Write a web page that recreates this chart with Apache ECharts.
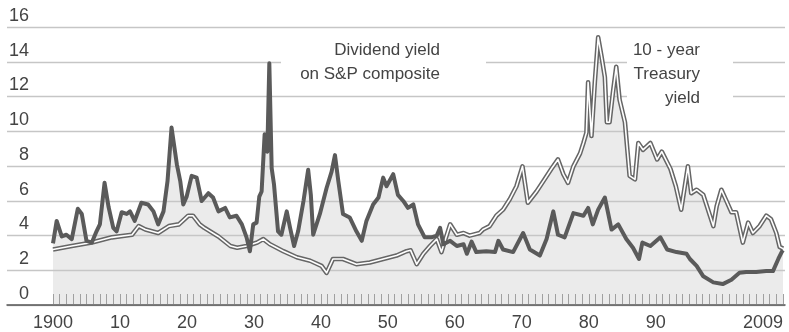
<!DOCTYPE html>
<html><head><meta charset="utf-8">
<script src="https://cdn.jsdelivr.net/npm/echarts@6/dist/echarts.min.js"></script>
<style>html,body{margin:0;padding:0;background:#fff}#c{width:789px;height:332px}</style>
</head><body><div id="c"></div>
<script>
const divYears = [1900.0,1900.55,1901.3,1902.0,1902.8,1903.7,1904.3,1905.0,1905.8,1906.5,1907.0,1907.7,1908.3,1909.0,1909.5,1910.25,1911.0,1911.5,1912.2,1913.2,1914.2,1915.0,1915.7,1916.5,1917.1,1917.7,1918.5,1919.0,1919.45,1919.95,1920.7,1921.45,1922.2,1923.2,1923.9,1924.7,1925.7,1926.4,1927.4,1928.2,1928.9,1929.4,1929.9,1930.4,1930.8,1931.15,1931.6,1932.0,1932.3,1932.65,1933.0,1933.6,1934.1,1934.9,1935.4,1936.0,1936.6,1937.4,1938.1,1938.5,1938.85,1939.85,1940.85,1941.6,1942.1,1942.6,1943.3,1944.3,1945.3,1946.1,1946.8,1947.8,1948.6,1949.3,1949.8,1950.8,1951.5,1952.3,1953.0,1953.8,1954.5,1955.5,1956.5,1957.3,1957.8,1958.3,1959.3,1960.3,1961.3,1961.8,1962.5,1963.2,1964.7,1966.0,1966.5,1967.2,1968.7,1970.2,1971.2,1972.7,1973.7,1974.7,1975.4,1976.4,1977.7,1979.2,1979.9,1980.6,1981.4,1982.4,1983.4,1984.4,1985.6,1986.6,1987.5,1988.0,1989.2,1990.7,1991.7,1993.1,1994.6,1995.1,1996.1,1997.1,1998.6,2000.0,2001.3,2002.5,2003.5,2005.0,2006.5,2007.5,2008.3,2008.8,2009.0];
const divValues = [3.5,4.8,3.9,4.0,3.75,5.5,5.2,3.65,3.55,4.2,4.6,7.0,5.6,4.4,4.2,5.3,5.2,5.35,4.8,5.85,5.75,5.35,4.6,5.35,7.1,10.2,8.05,7.1,5.75,6.2,7.4,7.3,5.95,6.4,6.15,5.35,5.55,5.0,5.1,4.6,3.85,3.05,4.6,4.7,6.2,6.5,9.8,8.8,13.9,7.85,6.9,4.2,4.0,5.35,4.4,3.35,4.2,5.95,7.75,6.3,4.0,5.2,6.7,7.65,8.6,7.1,5.2,5.0,4.2,3.65,4.8,5.75,6.15,7.3,6.8,7.5,6.3,5.95,5.55,5.75,4.6,3.85,3.85,3.95,4.4,3.45,3.65,3.35,3.45,2.9,3.6,3.0,3.05,3.0,3.65,3.15,3.0,4.1,3.15,2.8,3.75,5.35,4.0,3.85,5.25,5.1,5.55,4.6,5.45,6.15,4.3,4.6,3.75,3.25,2.6,3.55,3.35,3.85,3.15,3.0,2.9,2.6,2.2,1.6,1.25,1.15,1.4,1.8,1.85,1.85,1.9,1.9,2.6,3.0,3.1];
const tsyYears = [1900.0,1902.8,1905.8,1908.8,1911.8,1912.8,1913.8,1915.7,1917.3,1918.8,1920.2,1920.9,1921.9,1922.6,1924.7,1926.5,1927.5,1928.9,1930.5,1931.4,1932.4,1934.4,1936.4,1938.4,1940.1,1940.85,1941.8,1943.3,1945.3,1947.3,1949.3,1951.3,1952.8,1953.4,1954.3,1955.3,1956.3,1957.3,1958.0,1959.3,1960.3,1961.3,1962.2,1963.7,1964.2,1965.2,1966.2,1967.2,1968.2,1969.2,1970.1,1970.9,1972.2,1973.4,1974.4,1975.4,1976.2,1976.9,1977.7,1978.7,1979.2,1979.65,1979.9,1980.4,1980.9,1981.4,1981.9,1982.4,1982.7,1983.1,1983.6,1984.1,1984.6,1985.4,1986.1,1986.9,1987.4,1988.1,1989.2,1990.2,1990.9,1992.2,1993.0,1993.8,1994.8,1995.3,1996.1,1997.1,1998.1,1998.6,1999.1,1999.8,2000.5,2001.3,2002.0,2003.0,2003.8,2004.5,2005.5,2006.5,2007.2,2008.0,2008.5,2009.0];
const tsyValues = [3.15,3.35,3.55,3.85,4.0,4.5,4.3,4.1,4.5,4.6,5.1,5.1,4.6,4.4,3.9,3.35,3.25,3.35,3.55,3.75,3.45,3.05,2.7,2.5,2.2,1.8,2.6,2.6,2.3,2.4,2.6,2.8,3.05,3.1,2.3,2.9,3.35,3.75,3.0,4.6,4.0,4.1,3.95,4.1,4.3,4.5,5.1,5.45,6.05,6.8,7.95,5.85,6.5,7.2,7.8,8.35,7.5,7.0,7.95,8.7,9.3,9.9,12.8,9.7,12.8,15.4,14.3,13.1,10.5,10.5,12.2,13.7,11.8,10.5,7.4,7.2,9.3,8.9,9.3,8.35,8.8,7.8,6.8,5.45,7.95,6.4,6.6,6.3,5.1,4.5,5.65,6.6,6.0,5.3,5.3,3.55,4.7,4.1,4.5,5.1,4.9,4.1,3.3,3.2];
const yTicks = [0,2,4,6,8,10,12,14,16];
const xLabelYears = [1900,1910,1920,1930,1940,1950,1960,1970,1980,1990,2009];
const divLabel = 'Dividend yield\non S&P composite';
const tsyLabel = '10 - year\nTreasury\nyield';

const divData = divYears.map((y,i)=>[y, divValues[i]]);
const tsyData = tsyYears.map((y,i)=>[y, tsyValues[i]]);
const FONT = '"Liberation Sans", Arial, sans-serif';
const chart = echarts.init(document.getElementById('c'), null, {renderer:'canvas'});
chart.setOption({
  animation:false,
  backgroundColor:'#fff',
  grid:[
    {left:7, right:4, top:27, bottom:27},
    {left:53, right:6, top:27, bottom:27}
  ],
  xAxis:[
    {gridIndex:0, type:'value', min:0, max:1, z:1,
     axisLine:{show:true, lineStyle:{color:'#555', width:1.5}},
     axisTick:{show:false}, axisLabel:{show:false}, splitLine:{show:false}},
    {gridIndex:1, type:'value', min:1900, max:2009, interval:1, z:1,
     axisLine:{show:false},
     axisTick:{show:true, inside:true, length:10, lineStyle:{color:'#a0a0a0', width:1}},
     splitLine:{show:false},
     axisLabel:{show:true, fontSize:18, fontFamily:FONT, color:'#444', margin:10,
       showMinLabel:true, showMaxLabel:true, alignMaxLabel:'right',
       formatter:function(v){ if(xLabelYears.indexOf(v)<0) return ''; return (v===1900||v===2009)? String(v) : String(v%100); }}}
  ],
  yAxis:[
    {gridIndex:0, type:'value', min:0, max:16, interval:2, z:1,
     axisLine:{show:false}, axisTick:{show:false},
     splitLine:{show:true, lineStyle:{color:'#c6c6c6', width:1.3}},
     axisLabel:{inside:true, margin:22, align:'right', verticalAlign:'bottom', padding:[0,0,2,0],
       fontSize:18, lineHeight:18, fontFamily:FONT, color:'#444',
       formatter:function(v){ return yTicks.indexOf(v)>=0 ? String(v) : ''; }}},
    {gridIndex:1, type:'value', min:0, max:16, show:false}
  ],
  graphic:[
    {type:'rect', z:2, silent:true, shape:{x:281, y:37, width:205, height:51}, style:{fill:'#fff'}},
    {type:'rect', z:2, silent:true, shape:{x:627, y:37, width:106, height:73}, style:{fill:'#fff'}},
    {type:'text', z:10, silent:true, style:{text:divLabel, x:440, y:38, textAlign:'right', textVerticalAlign:'top', font:'17px '+FONT, lineHeight:24, fill:'#444'}},
    {type:'text', z:10, silent:true, style:{text:tsyLabel, x:700, y:38, textAlign:'right', textVerticalAlign:'top', font:'17px '+FONT, lineHeight:24, fill:'#444'}}
  ],
  series:[
    {type:'line', xAxisIndex:1, yAxisIndex:1, data:tsyData, showSymbol:false, z:0, lineStyle:{width:0}, areaStyle:{color:'#ebebeb', opacity:1}},
    {type:'line', xAxisIndex:1, yAxisIndex:1, data:divData, showSymbol:false, z:0, lineStyle:{width:0}, areaStyle:{color:'#ebebeb', opacity:1}},
    {type:'line', xAxisIndex:1, yAxisIndex:1, data:tsyData, showSymbol:false, z:3, lineStyle:{color:'#666', width:4.6, join:'round'}},
    {type:'line', xAxisIndex:1, yAxisIndex:1, data:tsyData, showSymbol:false, z:4, lineStyle:{color:'#ffffff', width:1.6, join:'round'}},
    {type:'line', xAxisIndex:1, yAxisIndex:1, data:divData, showSymbol:false, z:5, lineStyle:{color:'#5a5a5a', width:4, join:'round'}}
  ]
});
</script></body></html>
